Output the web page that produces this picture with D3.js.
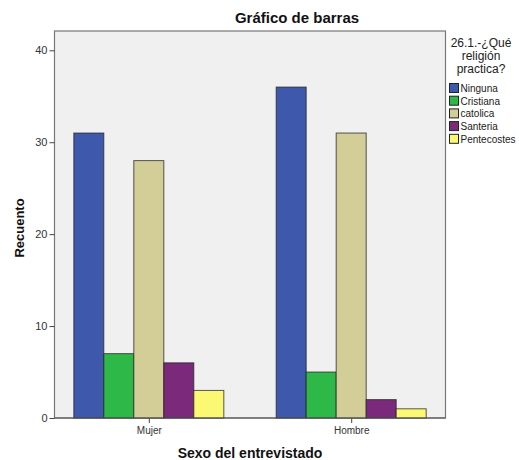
<!DOCTYPE html>
<html><head><meta charset="utf-8">
<script src="https://cdn.jsdelivr.net/npm/d3@7"></script>
<style>body{margin:0;background:#fff;} text{font-family:"Liberation Sans",Arial,sans-serif;}</style>
</head><body>
<svg id="c" width="519" height="460"></svg>
<script>
const categories = ["Mujer", "Hombre"];
const series = ["Ninguna", "Cristiana", "catolica", "Santeria", "Pentecostes"];
const valuesMujer = [31, 7, 28, 6, 3];
const valuesHombre = [36, 5, 31, 2, 1];
const yTicks = [0, 10, 20, 30, 40];
const colors = ["#3e58ac", "#2eb848", "#d3ce97", "#7b2a7b", "#fbf873"];
const legendTitle = ["26.1.-¿Qué", "religión", "practica?"];

const data = [valuesMujer, valuesHombre];
const svg = d3.select("#c");
const L = 54.5, R = 445.5, T = 31, B = 418;

svg.append("rect").attr("x", L).attr("y", T).attr("width", R - L).attr("height", B - T)
  .attr("fill", "#f0f0f0").attr("stroke", "#777").attr("stroke-width", 1.2);

const x = d3.scalePoint().domain(categories).range([L, R]).padding(0.466);
const xs = d3.scaleBand().domain(series).range([-75, 75]);
const y = d3.scaleLinear().domain([0, 42.1]).range([B, T]);
const color = d3.scaleOrdinal().domain(series).range(colors);

categories.forEach((c, ci) => {
  svg.append("g").selectAll("rect").data(series).join("rect")
    .attr("x", s => x(c) + xs(s))
    .attr("y", (s, i) => y(data[ci][i]))
    .attr("width", xs.bandwidth())
    .attr("height", (s, i) => B - y(data[ci][i]))
    .attr("fill", s => color(s))
    .attr("stroke", "#222").attr("stroke-opacity", 0.75).attr("stroke-width", 1);
});

const yAxis = d3.axisLeft(y).tickValues(yTicks).tickSize(5).tickPadding(2);
const gy = svg.append("g").attr("transform", `translate(${L},0)`).call(yAxis);
gy.select(".domain").remove();
gy.selectAll("line").attr("stroke", "#444");
gy.selectAll("text").attr("font-size", 11).attr("fill", "#333").attr("font-family", "Liberation Sans, Arial");

const xAxis = d3.axisBottom(x).tickSize(5).tickPadding(4);
const gx = svg.append("g").attr("transform", `translate(0,${B})`).call(xAxis);
gx.select(".domain").remove();
gx.selectAll("line").attr("stroke", "#444");
gx.selectAll("text").attr("font-size", 10).attr("fill", "#333").attr("font-family", "Liberation Sans, Arial");

svg.append("line").attr("x1", L).attr("x2", R).attr("y1", B).attr("y2", B).attr("stroke", "#555").attr("stroke-width", 1.2);

svg.append("text").attr("x", 297).attr("y", 23).attr("text-anchor", "middle")
  .attr("font-size", 15).attr("font-weight", "bold").attr("fill", "#111").text("Gráfico de barras");
svg.append("text").attr("transform", "translate(24,228) rotate(-90)").attr("text-anchor", "middle")
  .attr("font-size", 13).attr("font-weight", "bold").attr("fill", "#111").text("Recuento");
svg.append("text").attr("x", 250).attr("y", 458).attr("text-anchor", "middle")
  .attr("font-size", 14).attr("font-weight", "bold").attr("fill", "#111").text("Sexo del entrevistado");

const lg = svg.append("g");
lg.selectAll("text.t").data(legendTitle).join("text").attr("class", "t")
  .attr("x", 481).attr("y", (d, i) => 47 + i * 13).attr("text-anchor", "middle")
  .attr("font-size", 12).attr("fill", "#222").text(d => d);
const items = lg.selectAll("g.i").data(series).join("g").attr("class", "i")
  .attr("transform", (d, i) => `translate(449.5,${83.5 + i * 12.7})`);
items.append("rect").attr("width", 9).attr("height", 9).attr("fill", d => color(d))
  .attr("stroke", "#222").attr("stroke-width", 1);
items.append("text").attr("x", 11).attr("y", 8.5).attr("font-size", 10).attr("fill", "#222").text(d => d);
</script>
</body></html>
